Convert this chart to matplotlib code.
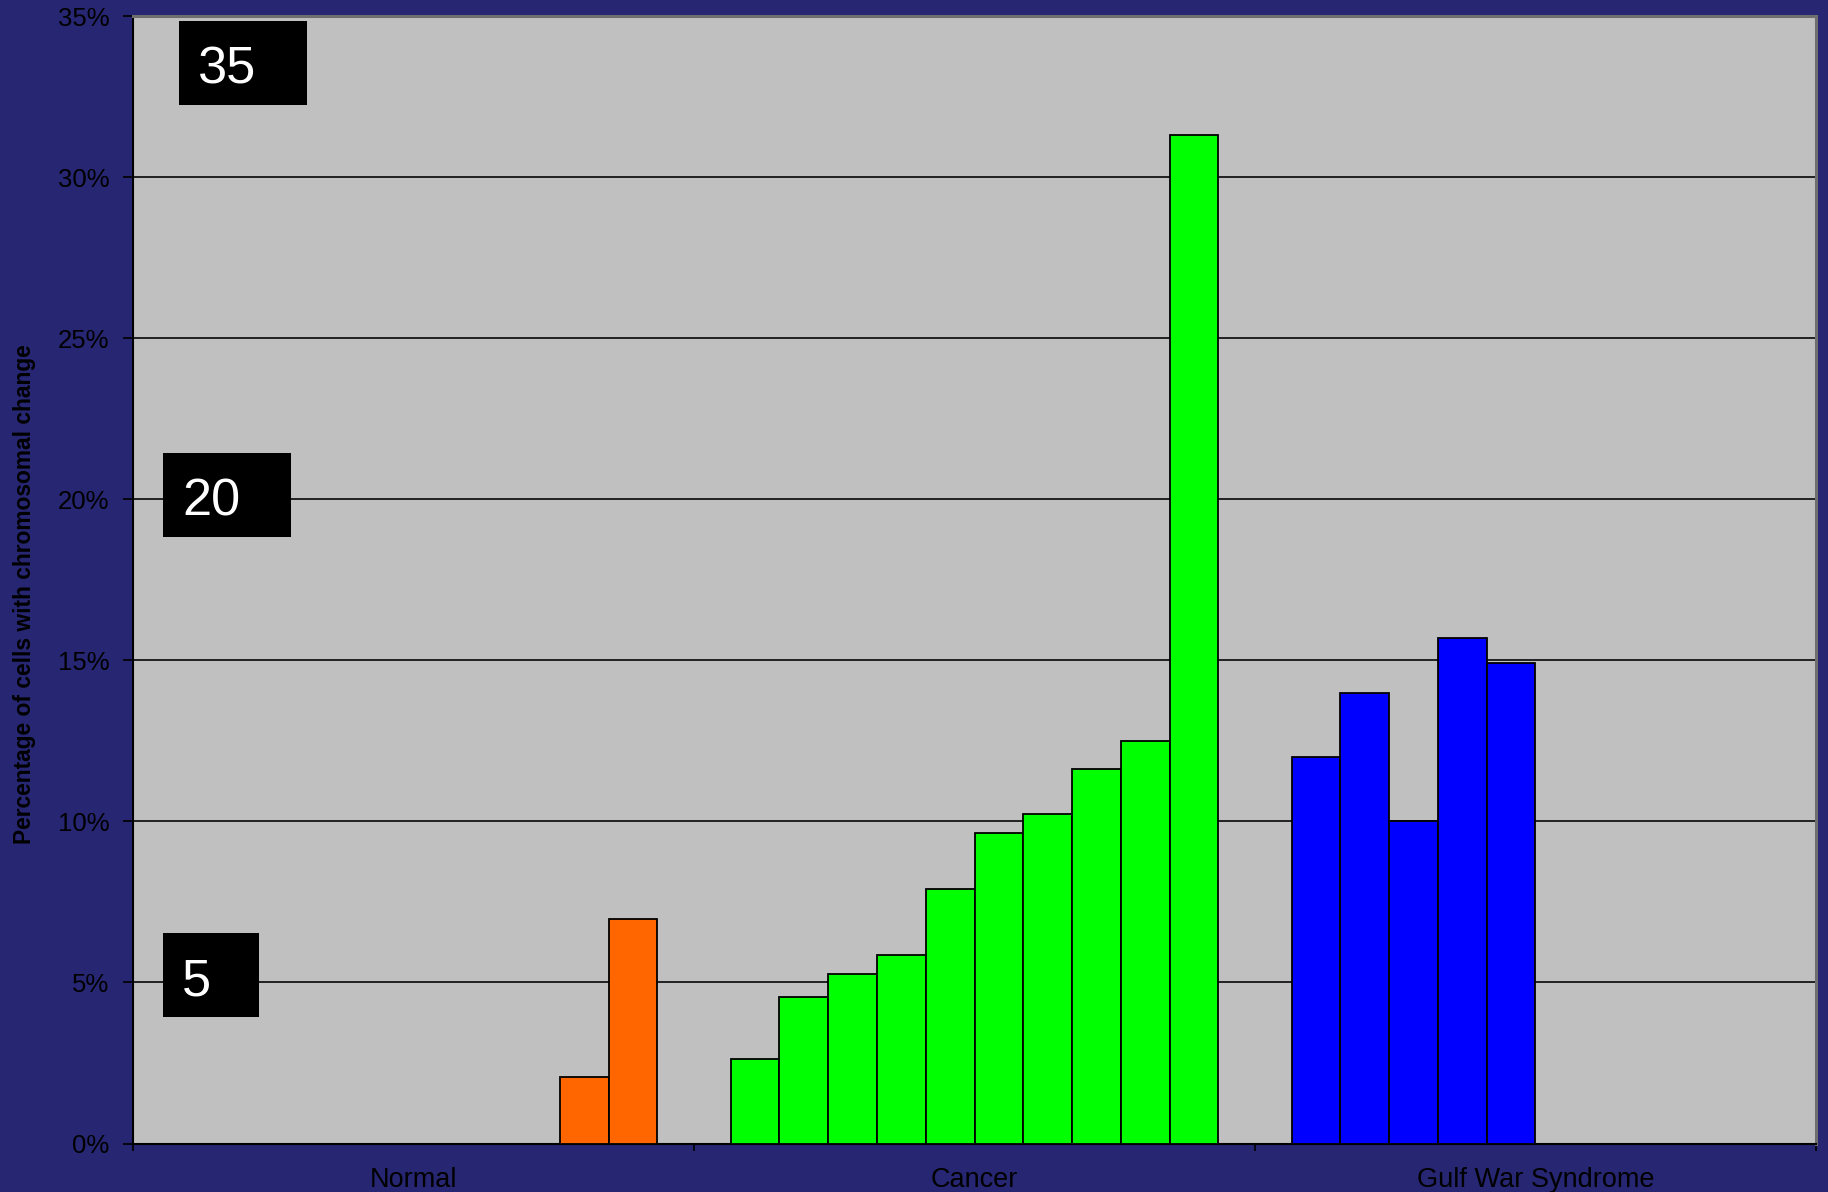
import matplotlib
matplotlib.use("Agg")
import matplotlib.pyplot as plt
from matplotlib.patches import Rectangle
from matplotlib.ticker import FixedLocator, FuncFormatter

# ---------------- data ----------------
categories = ["Normal", "Cancer", "Gulf War Syndrome"]
# clustered chart with 10 series slots per category (None = empty slot)
normal_pct = [None, None, None, None, None, None, None, None, 2.07, 6.97]
cancer_pct = [2.61, 4.56, 5.27, 5.85, 7.89, 9.64, 10.22, 11.63, 12.49, 31.30]
gulf_pct = [12.01, 13.99, 10.02, 15.68, 14.93, None, None, None, None, None]
group_values = [normal_pct, cancer_pct, gulf_pct]
group_colors = ["#FF6600", "#00FF00", "#0000FF"]
y_ticks = [0, 5, 10, 15, 20, 25, 30, 35]
box_labels = ["35", "20", "5"]
y_label = "Percentage of cells with chromosomal change"

# ---------------- figure ----------------
W, H = 1828, 1192
DPI = 100
BG = "#262673"
fig = plt.figure(figsize=(W / DPI, H / DPI), dpi=DPI, facecolor=BG)

left, right, top, bottom = 133, 1816, 16, 1143.5
ax = fig.add_axes([left / W, 1 - bottom / H, (right - left) / W, (bottom - top) / H])
ax.set_facecolor("#C0C0C0")

n_slots = 10
gap = 1.5
bw = 1.0 / (n_slots + gap)
for gi, (vals, col) in enumerate(zip(group_values, group_colors)):
    xs, hs = [], []
    for j, v in enumerate(vals):
        if v is None:
            continue
        xs.append(gi + (gap / 2 + j + 0.5) * bw)
        hs.append(v)
    ax.bar(xs, hs, width=bw, color=col, edgecolor="black", linewidth=1.3, zorder=3)

ax.set_xlim(0, len(categories))
ax.set_ylim(0, 35)

# y axis
ax.yaxis.set_major_locator(FixedLocator(y_ticks))
ax.yaxis.set_major_formatter(FuncFormatter(lambda v, p: f"{int(v)}%"))
ax.tick_params(axis="y", direction="out", length=7, width=1.2, color="black",
               labelsize=18.5, pad=10, labelcolor="black")
for lab in ax.get_yticklabels():
    lab.set_fontfamily(["Liberation Sans", "DejaVu Sans"])
ax.yaxis.grid(True, color="#151515", linewidth=1.3, zorder=1)
ax.set_axisbelow(True)

# x axis: boundaries as major ticks, category names as minor ticks
ax.xaxis.set_major_locator(FixedLocator(list(range(len(categories) + 1))))
ax.xaxis.set_major_formatter(FuncFormatter(lambda v, p: ""))
ax.xaxis.set_minor_locator(FixedLocator([i + 0.5 for i in range(len(categories))]))
ax.set_xticklabels(categories, minor=True)
ax.tick_params(axis="x", which="major", direction="out", length=5, width=1.2, color="black")
ax.tick_params(axis="x", which="minor", length=0, pad=17, labelsize=19.5, labelcolor="black")
for lab in ax.get_xticklabels(minor=True):
    lab.set_fontfamily(["Liberation Sans", "DejaVu Sans"])

for s in ["left", "bottom"]:
    ax.spines[s].set_color("black")
    ax.spines[s].set_linewidth(1.5)
for s in ["top", "right"]:
    ax.spines[s].set_color("#6e6e6e")
    ax.spines[s].set_linewidth(2.2)

# y label
fig.text(24.5 / W, 1 - 594.5 / H, y_label, rotation=90, ha="center", va="center",
         fontsize=16.4, fontweight="bold", color="black",
         family=["Liberation Sans", "DejaVu Sans"])

# black boxes with white numbers (pixel coords of box: x0, y0, x1, y1; text x, baseline)
boxes = [(179, 21, 307, 105, 198, 83), (163, 453, 291, 537, 182, 515), (163, 933, 259, 1017, 182, 995)]
for txt, (x0, y0, x1, y1, tx, ty) in zip(box_labels, boxes):
    fig.add_artist(Rectangle((x0 / W, 1 - y1 / H), (x1 - x0) / W, (y1 - y0) / H,
                             transform=fig.transFigure, facecolor="black", edgecolor="none", zorder=10))
    fig.text(tx / W, 1 - ty / H, txt, ha="left", va="baseline", fontsize=37.7, color="white",
             family=["Liberation Sans", "DejaVu Sans"], zorder=11)

fig.savefig("out.png", dpi=DPI, facecolor=BG)
